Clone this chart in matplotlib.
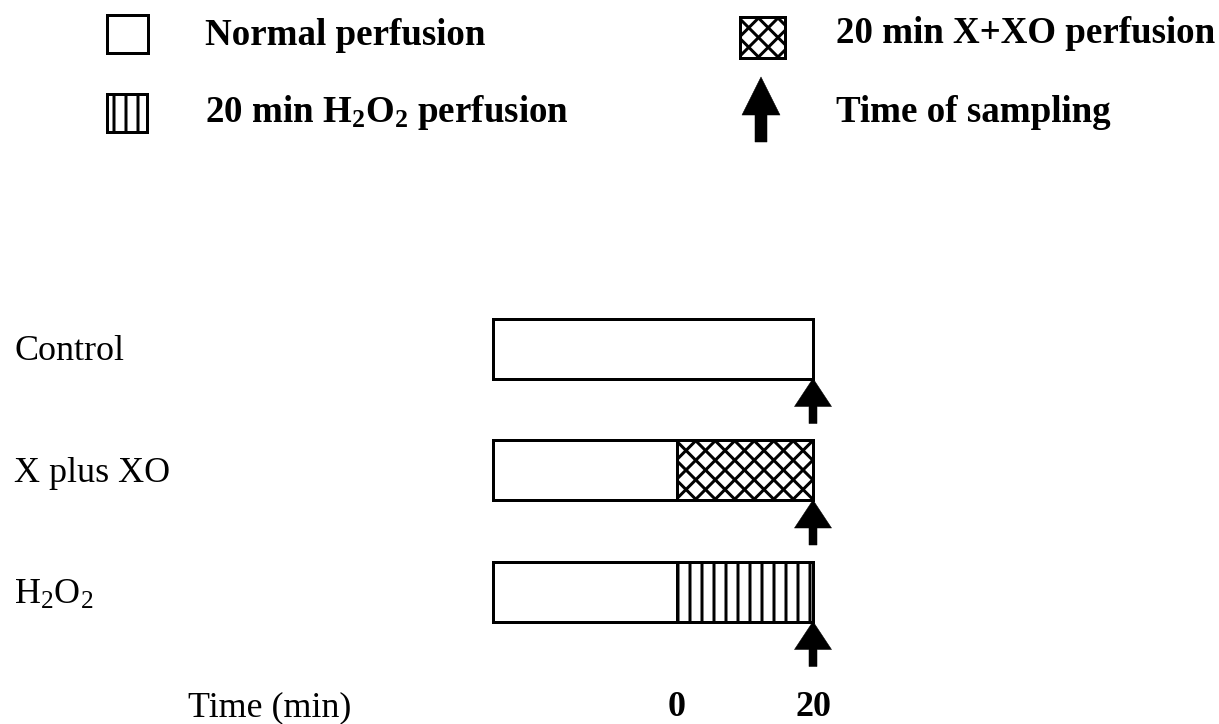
import matplotlib
matplotlib.use("Agg")
import numpy as np
import matplotlib.pyplot as plt
import matplotlib.transforms as mtransforms
from matplotlib.patches import Rectangle

# ---------------- data ----------------
groups = ["Control", "X plus XO", "H$_2$O$_2$"]
normal_start = [-27, -27, -27]
normal_end = [20, 0, 0]
treat_start = [None, 0, 0]
treat_end = [None, 20, 20]
treat_hatch = [None, "cross", "|"]
sampling_time = [20, 20, 20]
tick_values = [0, 20]
tick_labels = ["0", "20"]
xlabel = "Time (min)"
legend_labels = ["Normal perfusion", "20 min H$_2$O$_2$ perfusion",
                 "20 min X+XO perfusion", "Time of sampling"]

# ---------------- style ----------------
W, H, DPI = 1219, 724, 72
plt.rcParams["font.family"] = ["Liberation Serif", "DejaVu Serif"]
plt.rcParams["mathtext.fontset"] = "custom"
plt.rcParams["mathtext.rm"] = "Liberation Serif"
plt.rcParams["mathtext.bf"] = "Liberation Serif:bold"
plt.rcParams["mathtext.default"] = "regular"
plt.rcParams["hatch.linewidth"] = 3.0
plt.rcParams["hatch.color"] = "black"

fig = plt.figure(figsize=(W / DPI, H / DPI), dpi=DPI)


def crosshatch(axis, patch, x0, x1, y0, y1, sx, sy, period_px, lw=3.0):
    """Draw a diagonal cross-hatch clipped to patch; sx, sy = data units per pixel."""
    h_px = abs(y1 - y0) / sy
    dx = h_px * sx
    step = period_px * sx
    for xs in np.arange(x0 - dx, x1 + step, step):
        ln, = axis.plot([xs, xs + dx], [y0, y1], color="black", lw=lw,
                        solid_capstyle="butt", zorder=patch.get_zorder() + 0.1)
        ln.set_clip_path(patch)
    for xs in np.arange(x0, x1 + dx + step, step):
        ln, = axis.plot([xs, xs - dx], [y0, y1], color="black", lw=lw,
                        solid_capstyle="butt", zorder=patch.get_zorder() + 0.1)
        ln.set_clip_path(patch)


# main timeline axes (pixel-aligned scale)
px0, px_per_min = 677.0, 6.8
row0_px, row_px = 348.5, 121.5
ax = fig.add_axes([0, 0, 1, 1])
ax.set_xlim(-px0 / px_per_min, (W - px0) / px_per_min)
ax.set_ylim((H - row0_px) / row_px, -row0_px / row_px)
ax.axis("off")

bar_h = 60 / row_px
lw = 3
trans_lab = mtransforms.blended_transform_factory(ax.transAxes, ax.transData)
shift = mtransforms.Affine2D().translate(0, -12)
for i, g in enumerate(groups):
    ax.barh(i, normal_end[i] - normal_start[i], left=normal_start[i], height=bar_h,
            facecolor="white", edgecolor="black", linewidth=lw, zorder=2)
    if treat_start[i] is not None:
        hatch = treat_hatch[i] if treat_hatch[i] != "cross" else None
        bars = ax.barh(i, treat_end[i] - treat_start[i], left=treat_start[i], height=bar_h,
                       facecolor="white", edgecolor="black", linewidth=lw,
                       hatch=hatch, zorder=2)
        if treat_hatch[i] == "cross":
            crosshatch(ax, bars[0], treat_start[i], treat_end[i],
                       i - bar_h / 2, i + bar_h / 2,
                       1 / px_per_min, 1 / row_px, 19.5)
            # redraw outline on top
            ax.barh(i, treat_end[i] - treat_start[i], left=treat_start[i], height=bar_h,
                    facecolor="none", edgecolor="black", linewidth=lw, zorder=2.5)
    # sampling arrow below the bar end
    y_tip = i + bar_h / 2
    ax.annotate("", xy=(sampling_time[i], y_tip), xycoords="data",
                xytext=(0, -45), textcoords="offset points",
                arrowprops=dict(arrowstyle="simple,head_length=2.8,head_width=3.7,tail_width=0.8",
                                mutation_scale=10, fc="black", ec="black", lw=0.5,
                                shrinkA=0, shrinkB=0), zorder=3)
    # row label
    ax.text(14 / W, i, g, transform=trans_lab + shift, fontsize=36,
            ha="left", va="baseline")

# tick labels and axis caption
xl_y = (716 - row0_px) / row_px
for v, lab in zip(tick_values, tick_labels):
    ax.text(v, xl_y, lab, fontsize=36, fontweight="bold", ha="center", va="baseline")
ax.text(188 / W, xl_y, xlabel, transform=trans_lab, fontsize=36, ha="left", va="baseline")

# ---------------- legend (pixel overlay) ----------------
lg = fig.add_axes([0, 0, 1, 1], facecolor="none")
lg.set_xlim(0, W)
lg.set_ylim(H, 0)
lg.axis("off")

lg.add_patch(Rectangle((107, 15), 41, 38, facecolor="white", edgecolor="black", linewidth=3))
lg.add_patch(Rectangle((107, 94), 40, 38, facecolor="white", edgecolor="black", linewidth=3, hatch="|"))
cb = Rectangle((740, 17), 45, 41, facecolor="white", edgecolor="black", linewidth=3, zorder=2)
lg.add_patch(cb)
crosshatch(lg, cb, 740, 785, 17, 58, 1, 1, 19.5)
lg.add_patch(Rectangle((740, 17), 45, 41, facecolor="none", edgecolor="black", linewidth=3, zorder=3))
lg.annotate("", xy=(761, 77), xytext=(761, 142),
            arrowprops=dict(arrowstyle="simple,head_length=3.8,head_width=3.8,tail_width=1.2",
                            mutation_scale=10, fc="black", ec="black", lw=0.5,
                            shrinkA=0, shrinkB=0))

fs_leg = 37
lg.text(205, 45, legend_labels[0], fontsize=fs_leg, fontweight="bold", ha="left", va="baseline")
lg.text(205, 122, legend_labels[1], fontsize=fs_leg, fontweight="bold", ha="left", va="baseline")
lg.text(836, 43, legend_labels[2], fontsize=fs_leg, fontweight="bold", ha="left", va="baseline")
lg.text(836, 122, legend_labels[3], fontsize=fs_leg, fontweight="bold", ha="left", va="baseline")

fig.savefig("out.png", dpi=DPI, facecolor="white")
